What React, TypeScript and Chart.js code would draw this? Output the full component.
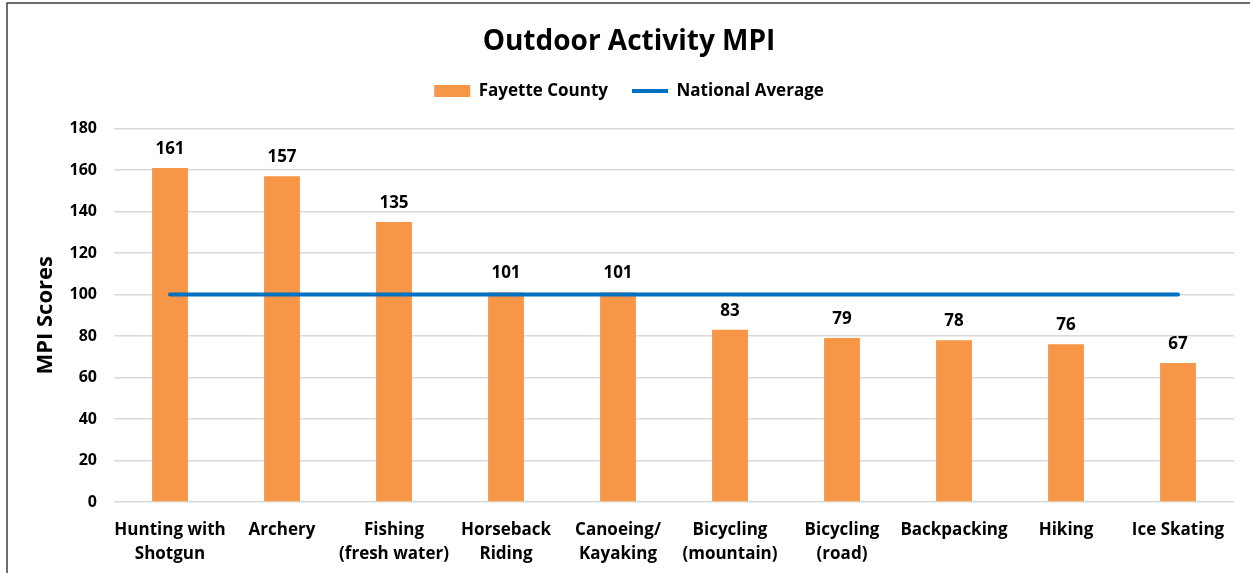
import React, { useEffect, useRef } from "react";
import { Chart, registerables, layouts } from "chart.js";

Chart.register(...registerables);

const categories: string[][] = [
  ["Hunting with", "Shotgun"],
  ["Archery"],
  ["Fishing", "(fresh water)"],
  ["Horseback", "Riding"],
  ["Canoeing/", "Kayaking"],
  ["Bicycling", "(mountain)"],
  ["Bicycling", "(road)"],
  ["Backpacking"],
  ["Hiking"],
  ["Ice Skating"],
];

const fayetteScores: number[] = [161, 157, 135, 101, 101, 83, 79, 78, 76, 67];
const nationalAverage: number[] = [100, 100, 100, 100, 100, 100, 100, 100, 100, 100];

const yTicks = { min: 0, max: 180, step: 20 };

const FONT = "'Open Sans', Lato, Arial, sans-serif";
const ORANGE = "#F79646";
const BLUE = "#0070C0";

// Value labels above each bar
const barValueLabels = {
  id: "barValueLabels",
  afterDatasetsDraw(chart: any) {
    const meta = chart.getDatasetMeta(1);
    const ctx = chart.ctx;
    ctx.save();
    ctx.font = `bold 17px ${FONT}`;
    ctx.fillStyle = "#000";
    ctx.textAlign = "center";
    ctx.textBaseline = "middle";
    meta.data.forEach((bar: any, i: number) => {
      ctx.fillText(String(fayetteScores[i]), bar.x, bar.y - 19);
    });
    ctx.restore();
  },
};

// Empty gap between the legend and the plot area
const legendGap = {
  id: "legendGap",
  beforeInit(chart: any) {
    const box: any = {
      position: "top",
      weight: 500,
      fullSize: true,
      options: { stackWeight: 1 },
      top: 0,
      left: 0,
      right: 0,
      bottom: 0,
      width: 0,
      height: 0,
      isHorizontal() {
        return true;
      },
      update(maxWidth: number) {
        this.width = maxWidth;
        this.height = 19;
      },
      draw() {},
    };
    layouts.addBox(chart, box);
  },
};

// Frame around the chart (top and left edges visible)
const chartFrame = {
  id: "chartFrame",
  afterDraw(chart: any) {
    const ctx = chart.ctx;
    ctx.save();
    ctx.strokeStyle = "#3f3f3f";
    ctx.lineWidth = 1.5;
    ctx.beginPath();
    ctx.moveTo(7, 700);
    ctx.lineTo(7, 3);
    ctx.lineTo(1260, 3);
    ctx.stroke();
    ctx.restore();
  },
};

export default function App() {
  const canvasRef = useRef<HTMLCanvasElement | null>(null);

  useEffect(() => {
    if (!canvasRef.current) return;
    const chart = new Chart(canvasRef.current, {
      type: "bar",
      data: {
        labels: categories,
        datasets: [
          {
            type: "line",
            label: "National Average",
            data: nationalAverage,
            borderColor: BLUE,
            backgroundColor: BLUE,
            borderWidth: 4,
            borderCapStyle: "round",
            pointRadius: 0,
            pointHoverRadius: 0,
            fill: false,
            order: 1,
          } as any,
          {
            type: "bar",
            label: "Fayette County",
            data: fayetteScores,
            backgroundColor: ORANGE,
            borderWidth: 0,
            categoryPercentage: 1,
            barPercentage: 0.32,
            order: 2,
          } as any,
        ],
      },
      options: {
        responsive: false,
        animation: false,
        devicePixelRatio: 1,
        layout: { padding: { top: 0, left: 24, right: 16, bottom: 0 } },
        plugins: {
          tooltip: { enabled: false },
          title: {
            display: true,
            text: "Outdoor Activity MPI",
            color: "#000",
            font: { family: FONT, size: 28, weight: "bold" },
            padding: { top: 25, bottom: 0 },
          },
          legend: {
            display: true,
            position: "top",
            labels: {
              color: "#000",
              font: { family: FONT, size: 17, weight: "bold" },
              usePointStyle: true,
              pointStyleWidth: 36,
              boxHeight: 12,
              padding: 24,
              generateLabels: () => [
                {
                  text: "Fayette County",
                  fillStyle: ORANGE,
                  strokeStyle: ORANGE,
                  lineWidth: 0,
                  pointStyle: "rect",
                  datasetIndex: 1,
                  fontColor: "#000",
                },
                {
                  text: "National Average",
                  fillStyle: BLUE,
                  strokeStyle: BLUE,
                  lineWidth: 4,
                  pointStyle: "line",
                  datasetIndex: 0,
                  fontColor: "#000",
                },
              ],
            },
          },
        },
        scales: {
          x: {
            grid: { display: false, drawTicks: false },
            border: { display: false },
            ticks: {
              color: "#000",
              font: { family: FONT, size: 17, weight: "bold", lineHeight: 1.37 },
              padding: 17,
              maxRotation: 0,
              autoSkip: false,
            },
            afterFit: (scale: any) => {
              scale.height = 71;
            },
          },
          y: {
            min: yTicks.min,
            max: yTicks.max,
            grid: { color: "#d9d9d9", lineWidth: 1.5, drawTicks: false },
            border: { display: false },
            ticks: {
              stepSize: yTicks.step,
              color: "#000",
              font: { family: FONT, size: 16, weight: "bold" },
              padding: 17,
            },
            title: {
              display: true,
              text: "MPI Scores",
              color: "#000",
              font: { family: FONT, size: 22, weight: "bold" },
              padding: { top: 9, bottom: 0 },
            },
            afterFit: (scale: any) => {
              scale.width = 90;
            },
          },
        },
      },
      plugins: [legendGap, barValueLabels, chartFrame],
    });
    return () => chart.destroy();
  }, []);

  return (
    <div style={{ position: "fixed", left: 0, top: 0, width: 1250, height: 573, background: "#fff" }}>
      <canvas ref={canvasRef} width={1250} height={573} style={{ display: "block" }} />
    </div>
  );
}
